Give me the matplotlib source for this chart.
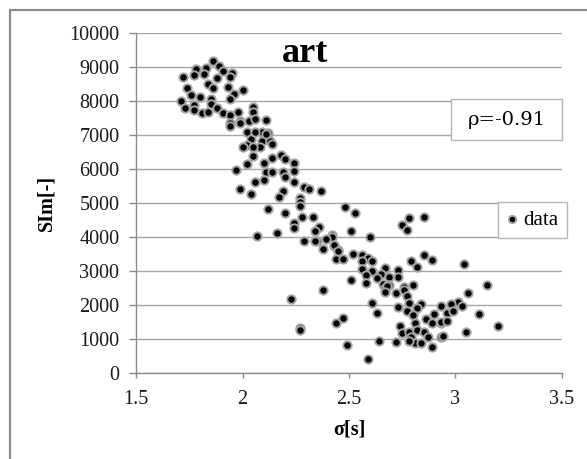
import numpy as np
import matplotlib
matplotlib.use("Agg")
import matplotlib.pyplot as plt
from matplotlib.patches import Rectangle

# sigma [s] and SIm [-]
sigma = [
    1.86, 1.83, 1.89, 1.78, 1.91, 1.95, 1.72, 1.77, 1.82, 1.88, 1.94, 1.84,
    1.74, 1.86, 1.93, 2.00, 1.76, 1.80, 1.96, 1.94, 1.71, 1.85, 1.85, 1.77,
    1.73, 1.77, 1.81, 1.84, 1.88, 1.91, 1.94, 1.98, 2.05, 2.05, 1.99, 2.03,
    1.94, 2.11, 1.94, 1.99, 2.02, 2.09, 2.12, 2.04, 2.09, 2.13, 2.02, 2.08,
    2.14, 2.05, 2.14, 2.18, 2.20, 2.24, 2.10, 2.02, 1.97, 2.11, 2.14, 2.19,
    2.24, 2.20, 2.10, 2.06, 2.24, 2.29, 2.31, 2.37, 1.99, 2.04, 2.19, 2.17,
    2.27, 2.27, 2.27, 2.48, 2.53, 2.20, 2.12, 2.28, 2.33, 2.24, 2.24, 2.36,
    2.34, 2.51, 2.42, 2.42, 2.60, 2.29, 2.35, 2.39, 2.38, 2.43, 2.45, 2.52,
    2.56, 2.59, 2.44, 2.47, 2.07, 2.16, 2.78, 2.85, 2.75, 2.77, 2.56, 2.61,
    2.85, 2.89, 2.79, 2.82, 2.67, 2.73, 2.56, 2.61, 2.65, 2.58, 2.63, 2.69,
    2.73, 2.51, 2.58, 2.66, 2.80, 2.69, 2.76, 2.67, 3.04, 3.15, 2.23, 2.38,
    2.27, 2.27, 2.44, 2.47, 2.68, 2.67, 2.72, 2.76, 2.77, 2.78, 2.84, 2.73,
    2.77, 2.82, 2.80, 2.61, 2.63, 2.86, 2.90, 2.89, 2.93, 2.93, 2.96, 2.81,
    2.74, 2.75, 2.78, 2.82, 2.85, 2.79, 2.81, 2.84, 2.87, 2.78, 2.89, 2.93,
    2.64, 2.72, 2.49, 2.59, 3.06, 3.01, 2.98, 3.03, 2.99, 3.11, 2.93, 2.96,
    3.20, 3.05, 2.94, 2.34, 2.43, 2.45, 2.00, 2.05, 2.06, 2.11, 2.06,
]
sim = [
    9180, 8960, 9040, 8930, 8890, 8810, 8720, 8760, 8790, 8670, 8720, 8500,
    8390, 8370, 8420, 8320, 8180, 8130, 8200, 8060, 8000, 8050, 7910, 7880,
    7780, 7740, 7640, 7690, 7800, 7640, 7590, 7690, 7810, 7670, 7410, 7420,
    7340, 7440, 7270, 7360, 7100, 7100, 7050, 6870, 6830, 6830, 6710, 6640,
    6730, 6380, 6310, 6410, 6290, 6190, 6190, 6150, 5970, 5920, 5900, 5900,
    5940, 5770, 5680, 5610, 5630, 5480, 5410, 5360, 5400, 5270, 5360, 5170,
    5140, 5040, 4910, 4870, 4720, 4720, 4820, 4580, 4580, 4400, 4260, 4290,
    4190, 4190, 4060, 4010, 3990, 3890, 3880, 3930, 3640, 3740, 3620, 3500,
    3470, 3390, 3340, 3340, 4040, 4110, 4550, 4580, 4350, 4210, 3300, 3280,
    3470, 3320, 3280, 3130, 3080, 3030, 3050, 3010, 2910, 2880, 2780, 2830,
    2810, 2740, 2640, 2620, 2590, 2590, 2520, 2490, 3210, 2590, 2170, 2440,
    1310, 1250, 1480, 1610, 2560, 2390, 2360, 2440, 2250, 2050, 2030, 1950,
    1830, 1900, 1710, 2050, 1760, 1580, 1740, 1480, 1480, 1970, 1760, 1480,
    1380, 1170, 1220, 1250, 1220, 1050, 890, 890, 1070, 950, 760, 1070,
    950, 920, 820, 400, 2340, 2100, 2030, 1970, 1830, 1740, 1510, 1540,
    1380, 1220, 1090, 3890, 3770, 3600, 6660, 6660, 7100, 7030, 7460,
]

x_ticks = [1.5, 2, 2.5, 3, 3.5]
x_tick_labels = ["1.5", "2", "2.5", "3", "3.5"]
y_ticks = [0, 1000, 2000, 3000, 4000, 5000, 6000, 7000, 8000, 9000, 10000]

title = "art"
rho_text = "ρ=-0.91"

SERIF = "Liberation Serif"
GRAY = "#8c8c8c"


def plot_scatter(save_path="out.png"):
    fig = plt.figure(figsize=(5.87, 4.59), dpi=100)
    ax = fig.add_axes([0.2317, 0.1874, 0.7257, 0.7407])

    # outer chart border (only left and top visible in the crop)
    fig.add_artist(Rectangle((10 / 587, -0.2), 1.2, 1.2 - 10.5 / 459,
                             transform=fig.transFigure, fill=False,
                             edgecolor=GRAY, linewidth=1.6))

    ax.scatter(sigma, sim, s=36, c="black", edgecolors="#a3a3a3",
               linewidths=1.4, zorder=3, label="data")

    ax.set_xlim(1.5, 3.5)
    ax.set_ylim(0, 10000)
    ax.set_xticks(x_ticks)
    ax.set_xticklabels(x_tick_labels)
    ax.set_yticks(y_ticks)

    ax.grid(True, axis="y", color="#a6a6a6", linewidth=1.0)
    ax.set_axisbelow(True)
    for side in ["top", "right"]:
        ax.spines[side].set_visible(False)
    for side in ["left", "bottom"]:
        ax.spines[side].set_color(GRAY)
        ax.spines[side].set_linewidth(1.0)

    ax.tick_params(axis="y", length=5, width=1, color=GRAY, pad=7)
    ax.tick_params(axis="x", length=3.5, width=1, color=GRAY, pad=9)
    for lab in ax.get_xticklabels() + ax.get_yticklabels():
        lab.set_fontfamily(SERIF)
        lab.set_fontsize(14.5)
        lab.set_color("#1a1a1a")

    ax.set_xlabel("σ[s]", fontfamily=SERIF, fontsize=14.5, fontweight="bold",
                  labelpad=7)
    ax.set_ylabel("SIm[-]", fontfamily=SERIF, fontsize=14.5, fontweight="bold",
                  labelpad=9)

    ax.text(0.397, 0.915, title, transform=ax.transAxes, ha="center",
            va="baseline", fontfamily=SERIF, fontsize=26, fontweight="bold")

    # correlation box
    ax.add_patch(Rectangle((0.7394, 0.685), 0.2606, 0.121,
                           transform=ax.transAxes, facecolor="white",
                           edgecolor="#b5b5b5", linewidth=1.0, zorder=4,
                           clip_on=False))
    ax.text(0.8697, 0.745, rho_text, transform=ax.transAxes, ha="center",
            va="center", fontfamily="DejaVu Serif", fontsize=14, zorder=5)

    leg = ax.legend(loc="upper left", bbox_to_anchor=(0.849, 0.503),
                    frameon=True, fancybox=False, edgecolor="#b5b5b5",
                    framealpha=1, borderpad=0.4, handlelength=0.6,
                    handletextpad=0.25, borderaxespad=0,
                    prop={"family": SERIF, "size": 15})
    leg.get_frame().set_linewidth(1.0)
    leg.legend_handles[0].set_sizes([28])

    fig.savefig(save_path, dpi=100)
    plt.close(fig)


if __name__ == "__main__":
    plot_scatter()
